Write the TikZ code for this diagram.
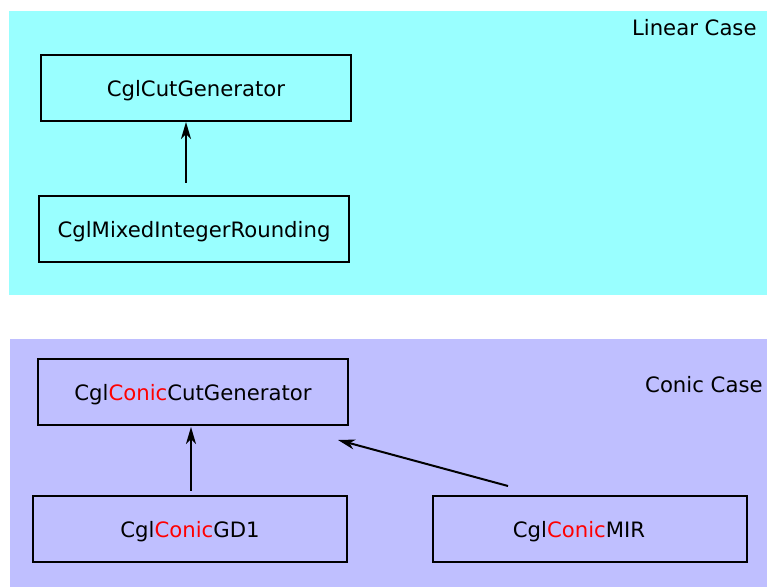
\documentclass[tikz,border=0pt]{standalone}
\usepackage{fontspec}
\setmainfont{DejaVu Sans}
\usepackage{xcolor}
\usetikzlibrary{arrows.meta,positioning}
\definecolor{lincase}{HTML}{99FFFF}
\definecolor{concase}{HTML}{BFBFFF}
\newcommand{\cn}{\textcolor{red}{Conic}}

\begin{document}
\begin{tikzpicture}[
    x=0.5pt, y=-0.5pt,
    font=\fontsize{10.6}{12.5}\selectfont,
    box/.style={draw, line width=1pt, minimum width=155pt, minimum height=33pt,
                inner sep=0pt, text height=9pt, text depth=0pt, align=center},
    wbox/.style={box, minimum width=157pt},
    lbl/.style={anchor=east, inner sep=0pt},
    arr/.style={-{Stealth[length=8.5pt, width=5pt, inset=2.5pt]}, line width=1pt},
  ]
  \useasboundingbox (0,0) rectangle (767,587);
  \fill[lincase] (9,11) rectangle (767,295);
  \fill[concase] (10,339) rectangle (767,587);

  \node[lbl] (lin) at (757,28) {Linear Case};
  \node[lbl] (con) at (763,385) {Conic Case};

  \node[box]  (cut)   at (196,88)  {CglCutGenerator};
  \node[box]  (mixed) at (194,229) {CglMixedIntegerRounding};
  \node[box]  (ccut)  at (193,392) {Cgl\cn CutGenerator};
  \node[wbox] (gd1)   at (190,529) {Cgl\cn GD1};
  \node[wbox] (cmir)  at (590,529) {Cgl\cn MIR\hspace*{11pt}};

  \draw[arr] ([xshift=-4pt,yshift=6pt]mixed.north) -- ([xshift=-5pt,yshift=0pt]cut.south);
  \draw[arr] ([xshift=0.5pt,yshift=2pt]gd1.north) -- ([xshift=-1pt,yshift=-0.5pt]ccut.south);
  \draw[arr] ([xshift=-41pt,yshift=4.5pt]cmir.north) -- ([xshift=-5.5pt,yshift=-7pt]ccut.south east);
\end{tikzpicture}
\end{document}
